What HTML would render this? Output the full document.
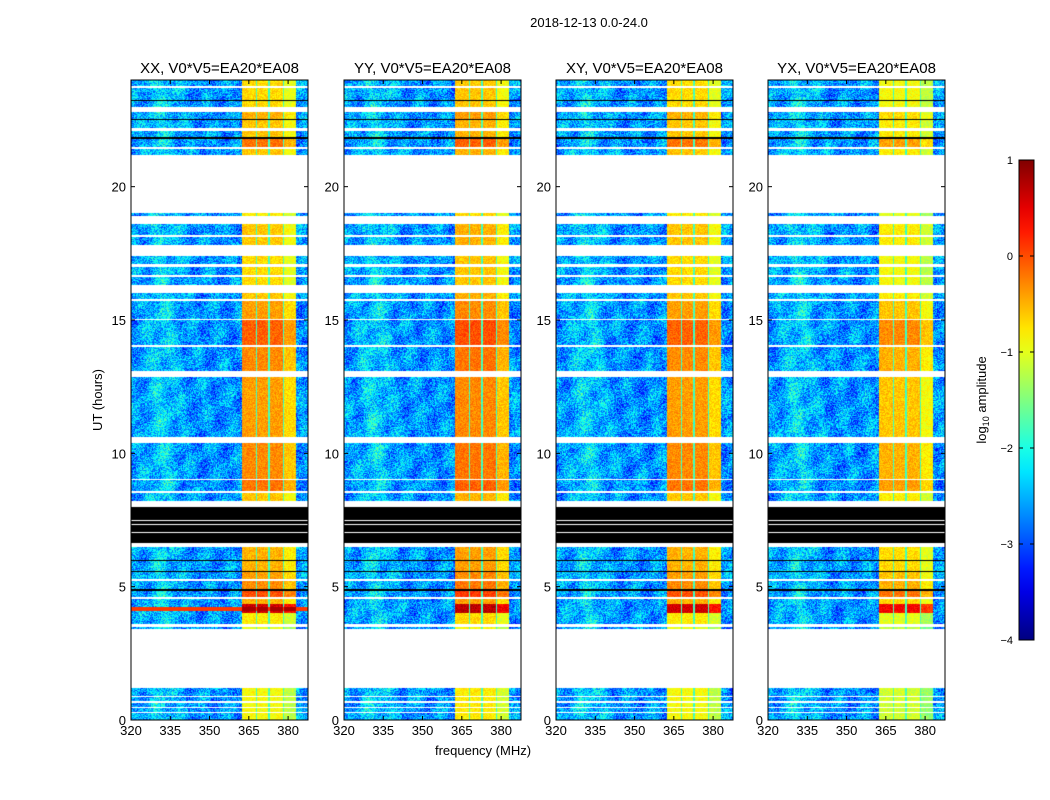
<!DOCTYPE html>
<html><head><meta charset="utf-8">
<style>
body{margin:0;background:#fff;font-family:"Liberation Sans",sans-serif;}
#root{position:relative;width:1050px;height:800px;overflow:hidden;}
</style></head>
<body><div id="root">
<svg id="svg" width="1050" height="800" style="position:absolute;left:0;top:0"></svg>
</div>
<script>
// ---- data ----
const panelTitles = ["XX, V0*V5=EA20*EA08","YY, V0*V5=EA20*EA08","XY, V0*V5=EA20*EA08","YX, V0*V5=EA20*EA08"];
const panelRfiOffset = [0, 0.1, 0, -0.2];
const xTicks = [320,335,350,365,380];
const yTicks = [0,5,10,15,20];
const cbTicks = [1,0,-1,-2,-3,-4];
// time segments: [startHour, endHour, kind, rfiLevel]
const segments = [
[0,0.25,'d',-0.9],[0.25,0.3,'w',0],[0.3,0.45,'d',-0.9],[0.45,0.5,'w',0],[0.5,0.65,'d',-0.9],[0.65,0.7,'w',0],
[0.7,0.85,'d',-0.9],[0.85,0.9,'w',0],[0.9,1.2,'d',-0.9],[1.2,3.4,'w',0],
[3.4,3.5,'d',-1.0],[3.5,3.6,'w',0],[3.6,4.0,'d',-0.8],[4.0,4.35,'d',0.6],[4.35,4.55,'d',-0.5],[4.55,4.62,'w',0],
[4.62,4.85,'d',0.0],[4.85,4.9,'k',0],[4.9,5.2,'d',-0.3],[5.2,5.27,'w',0],[5.27,5.55,'d',-0.4],[5.55,5.6,'k',0],
[5.6,5.95,'d',-0.5],[5.95,6.0,'k',0],[6.0,6.5,'d',-0.5],[6.5,6.65,'w',0],[6.65,7.0,'k',0],[7.0,7.05,'w',0],
[7.05,7.3,'k',0],[7.3,7.35,'w',0],[7.35,7.45,'k',0],[7.45,7.5,'w',0],[7.5,8.0,'k',0],[8.0,8.2,'w',0],
[8.2,8.5,'d',-0.6],[8.5,8.6,'w',0],[8.6,9.0,'d',-0.2],[9.0,9.05,'w',0],[9.05,10.4,'d',-0.3],[10.4,10.6,'w',0],
[10.6,12.85,'d',-0.4],[12.85,13.1,'w',0],[13.1,14.0,'d',-0.3],[14.0,14.05,'w',0],[14.05,15.0,'d',-0.1],
[15.0,15.05,'w',0],[15.05,15.7,'d',-0.4],[15.7,15.8,'w',0],[15.8,16.0,'d',-0.6],[16.0,16.3,'w',0],
[16.3,16.6,'d',-0.7],[16.6,16.7,'w',0],[16.7,17.0,'d',-0.7],[17.0,17.1,'w',0],[17.1,17.4,'d',-0.7],
[17.4,17.8,'w',0],[17.8,18.1,'d',-0.6],[18.1,18.2,'w',0],[18.2,18.6,'d',-0.6],[18.6,18.9,'w',0],
[18.9,19.0,'d',-0.8],[19.0,21.2,'w',0],[21.2,21.4,'d',-0.6],[21.4,21.5,'w',0],[21.5,21.8,'d',-0.2],
[21.8,21.85,'k',0],[21.85,22.1,'d',-0.6],[22.1,22.2,'w',0],[22.2,22.5,'d',-0.6],[22.5,22.55,'k',0],
[22.55,22.8,'d',-0.5],[22.8,23.0,'w',0],[23.0,23.2,'d',-0.7],[23.2,23.25,'k',0],[23.25,23.7,'d',-0.7],
[23.7,23.78,'w',0],[23.78,24,'d',-0.7]];
// bright RFI frequency columns [startMHz, endMHz, offset]
const rfiCols = [[362.4,367.6,0],[368.0,372.5,0],[373.0,378.0,0],[378.5,383.0,-0.3]];
const bgLevel = -2.65;
// XX-only red band [start,end,level]
const xxBand = [4.1,4.25,0.1];

// ---- layout ----
const panelX = [131,344,556,768], PW=177, PT=80, PB=720;
const F0=320, F1=387.6, H0=0, H1=24;
function fx(p,f){return panelX[p]+(f-F0)/(F1-F0)*PW;}
function hy(h){return PB-(h-H0)/(H1-H0)*(PB-PT);}
function jet(v){ // v in [-4,1]
  let t=Math.max(0,Math.min(1,(v+4)/5));
  const c=x=>Math.max(0,Math.min(1,x));
  return [c(1.5-Math.abs(4*t-3)),c(1.5-Math.abs(4*t-2)),c(1.5-Math.abs(4*t-1))].map(x=>Math.round(x*255));
}
function grain(x,y,p){const s=Math.sin(x*12.9898+y*78.233+p*37.7)*43758.5453;return s-Math.floor(s);}
const svg=document.getElementById('svg');const NS="http://www.w3.org/2000/svg";
function el(tag,attrs,parent){const e=document.createElementNS(NS,tag);for(const k in attrs)e.setAttribute(k,attrs[k]);(parent||svg).appendChild(e);return e;}
function txt(x,y,s,size,anchor,parent){const t=el('text',{x:x,y:y,'font-size':size,'text-anchor':anchor||'middle','font-family':'Liberation Sans, sans-serif',fill:'#000'},parent);t.textContent=s;return t;}

const title=txt(589,27,"2018-12-13 0.0-24.0",13);



for(let p=0;p<4;p++){
  const g=el('g',{});
  
  
  const cv=document.createElement('canvas');cv.width=PW;cv.height=PB-PT;
  const ctx=cv.getContext('2d');const img=ctx.createImageData(PW,PB-PT);
  for(let y=0;y<PB-PT;y++){
    const h=H1-(y+0.5)/(PB-PT)*(H1-H0);
    const seg=segments.find(s=>h>=s[0]&&h<s[1])||segments[segments.length-1];
    for(let x=0;x<PW;x++){
      const f=F0+(x+0.5)/PW*(F1-F0);
      let col;
      if(seg[2]==='w')col=[255,255,255];
      else if(seg[2]==='k')col=[0,0,0];
      else{
        const n=grain(x,y,p)-0.5;
        const sm=0.3*Math.sin(x*0.21+y*0.07)*Math.sin(y*0.11-x*0.05)+0.35*Math.exp(-Math.pow((f-332)/6,2));
        let v=bgLevel+n*1.1+sm;
        const rc=rfiCols.find(c=>f>=c[0]&&f<c[1]);
        if(rc)v=seg[3]+panelRfiOffset[p]+rc[2]+n*0.4;
        else if(f>=362.4&&f<383)v=-1.8+n*0.4;
        if(p===0&&h>=xxBand[0]&&h<xxBand[1])v=rc?Math.max(v,0.8):xxBand[2];
        col=jet(v);
      }
      const i=(y*PW+x)*4;img.data[i]=col[0];img.data[i+1]=col[1];img.data[i+2]=col[2];img.data[i+3]=255;
    }
  }
  ctx.putImageData(img,0,0);
  const im=el('image',{x:panelX[p],y:PT,width:PW,height:PB-PT,href:cv.toDataURL()},g);
  
  
  el('rect',{x:panelX[p],y:PT,width:PW,height:PB-PT,fill:'none',stroke:'#000','stroke-width':1},g);
  const t=txt(panelX[p]+PW/2,73,panelTitles[p],15,'middle',g);
  
  
  xTicks.forEach(v=>{const x=fx(p,v);
    el('line',{x1:x,x2:x,y1:PB,y2:PB-4,stroke:'#000'},g);el('line',{x1:x,x2:x,y1:PT,y2:PT+4,stroke:'#000'},g);
    const l=txt(x,735,String(v),13,'middle',g);
    
    });
  yTicks.forEach(v=>{const y=hy(v);
    el('line',{x1:panelX[p],x2:panelX[p]+4,y1:y,y2:y,stroke:'#000'},g);el('line',{x1:panelX[p]+PW,x2:panelX[p]+PW-4,y1:y,y2:y,stroke:'#000'},g);
    const l=txt(panelX[p]-5,y+5,String(v),13,'end',g);
    
    });
}
const yl=txt(0,0,"UT (hours)",13);yl.setAttribute('transform','translate(102,400) rotate(-90)');


const xl=txt(483,755,"frequency (MHz)",13);



// colorbar
const defs=el('defs',{});const gr=el('linearGradient',{id:'jetg',x1:0,y1:1,x2:0,y2:0},defs);
for(let i=0;i<=20;i++){const c=jet(-4+5*i/20);el('stop',{offset:i/20,'stop-color':`rgb(${c})`},gr);}
const cb=el('rect',{x:1019,y:160,width:15,height:480,fill:'url(#jetg)',stroke:'#000'});


cbTicks.forEach(v=>{const y=640-(v+4)/5*480;
  el('line',{x1:1019,x2:1023,y1:y,y2:y,stroke:'#000'});el('line',{x1:1034,x2:1030,y1:y,y2:y,stroke:'#000'});
  const l=txt(1013,y+4,v<0?'\u2212'+(-v):String(v),11,'end');
  
  });
const cl=el('text',{transform:'translate(986,400) rotate(-90)','font-size':13,'text-anchor':'middle','font-family':'Liberation Sans, sans-serif'});
cl.innerHTML='log<tspan font-size="9" dy="3">10</tspan><tspan dy="-3"> amplitude</tspan>';


</script>
</body></html>
